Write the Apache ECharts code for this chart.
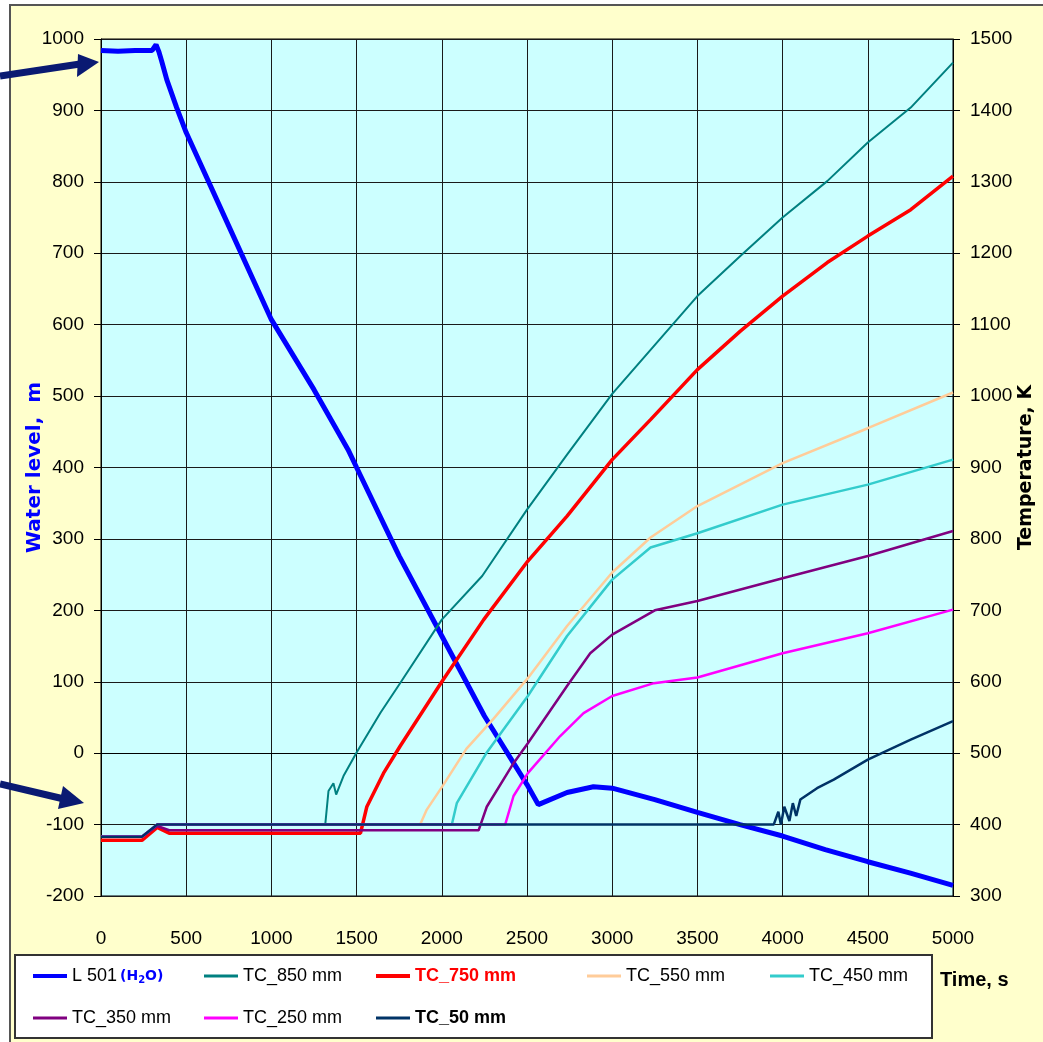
<!DOCTYPE html>
<html>
<head>
<meta charset="utf-8">
<script src="https://cdn.jsdelivr.net/npm/echarts@6/dist/echarts.min.js"></script>
<style>
html, body { margin: 0; padding: 0; background: #fff; }
#chart { width: 1043px; height: 1042px; }
</style>
</head>
<body>
<div id="chart"></div>
<script>
// water level, m (left axis)
const l501Time  = [0, 100, 200, 300, 323, 340, 356, 386, 444, 500, 750, 1000, 1250, 1450, 1500, 1750, 2000, 2250, 2500, 2566, 2735, 2890, 3000, 3250, 3500, 3750, 4000, 4250, 4500, 4750, 5000];
const l501Level = [984, 983, 984, 984, 992, 982, 969, 943, 904, 869, 738, 607, 509, 425, 400, 276, 164, 52, -44, -72, -55, -47, -49, -65, -83, -100, -116, -135, -152, -168, -185];

// temperatures, K (right axis)
const tc850Time = [0, 240, 330, 1316, 1335, 1364, 1380, 1423, 1500, 1641, 1758, 2000, 2237, 2500, 2735, 3000, 3500, 3752, 4000, 4262, 4500, 4752, 5000];
const tc850Temp = [383, 383, 400, 400, 447, 458, 442, 468, 501, 557, 599, 687, 748, 841, 918, 1003, 1140, 1196, 1250, 1301, 1355, 1404, 1467];

const tc750Time = [0, 240, 330, 400, 1523, 1560, 1658, 1756, 2000, 2246, 2505, 2735, 3000, 3225, 3500, 3752, 4000, 4262, 4500, 4752, 5000];
const tc750Temp = [378, 378, 396, 388, 388, 425, 472, 510, 600, 687, 769, 832, 911, 967, 1037, 1091, 1140, 1187, 1224, 1261, 1308];

const tc550Time = [0, 240, 330, 1873, 1912, 2010, 2144, 2303, 2505, 2735, 3000, 3225, 3500, 4000, 4500, 5000];
const tc550Temp = [383, 383, 400, 400, 421, 456, 506, 548, 605, 678, 753, 802, 846, 906, 955, 1005];

const tc450Time = [0, 240, 330, 2059, 2088, 2264, 2505, 2735, 3000, 3225, 3500, 4000, 4500, 5000];
const tc450Temp = [383, 383, 400, 400, 430, 501, 580, 664, 743, 788, 808, 848, 876, 911];

const tc350Time = [0, 240, 330, 400, 2216, 2264, 2421, 2505, 2735, 2871, 3000, 3250, 3500, 4000, 4500, 5000];
const tc350Temp = [383, 383, 398, 392, 392, 425, 486, 514, 594, 640, 666, 700, 713, 745, 776, 811];

const tc250Time = [0, 240, 330, 2372, 2421, 2505, 2695, 2832, 3000, 3245, 3500, 4000, 4500, 5000];
const tc250Temp = [383, 383, 400, 400, 440, 472, 524, 556, 580, 598, 606, 640, 668, 701];

const tc50Time = [0, 240, 330, 3948, 3975, 3990, 4010, 4040, 4060, 4080, 4104, 4202, 4300, 4500, 4752, 5000];
const tc50Temp = [383, 383, 400, 400, 418, 400, 425, 405, 430, 412, 435, 451, 463, 491, 519, 545];

const seriesNames = ['L 501 (H2O)', 'TC_850 mm', 'TC_750 mm', 'TC_550 mm', 'TC_450 mm', 'TC_350 mm', 'TC_250 mm', 'TC_50 mm'];

const FONT = '"Liberation Sans", Arial, sans-serif';
const BOLD = '"DejaVu Sans", Verdana, sans-serif';

function zip(xs, ys) { return xs.map((x, i) => [x, ys[i]]); }
function plain(v) { return String(v); }

var chart = echarts.init(document.getElementById('chart'));

function line(name, xs, ys, color, width, axis) {
  return {
    name: name, type: 'line', yAxisIndex: axis, data: zip(xs, ys),
    symbol: 'none', smooth: false, animation: false,
    lineStyle: { color: color, width: width }, itemStyle: { color: color }
  };
}

// legend items, one small legend each so the columns line up like the original
const legendPos = [
  [33, 967], [204, 967], [376, 967], [587, 967], [770, 967],
  [33, 1009], [204, 1009], [376, 1009]
];
const legendColor = ['#0000ff', '#008080', '#ff0000', '#ffcc99', '#33cccc', '#800080', '#ff00ff', '#003366'];
const legendThick = [4, 3, 4, 3, 3, 3, 3, 3];
const legendText = [
  { color: '#000' }, { color: '#000' },
  { color: '#f00', fontWeight: 'bold' },
  { color: '#000' }, { color: '#000' }, { color: '#000' }, { color: '#000' },
  { color: '#000', fontWeight: 'bold' }
];
var legends = seriesNames.map((n, i) => ({
  data: [{ name: n, textStyle: legendText[i], itemStyle: { color: legendColor[i] } }],
  left: legendPos[i][0], top: legendPos[i][1],
  padding: 0, itemWidth: 34, itemHeight: legendThick[i], icon: 'rect', selectedMode: false,
  formatter: function (name) {
    if (name === 'L 501 (H2O)') return '{a|L 501}{b|(H}{c|2}{b|O)}';
    return name;
  },
  textStyle: {
    fontFamily: FONT, fontSize: 18, color: '#000',
    rich: {
      a: { fontFamily: FONT, fontSize: 18, color: '#000', padding: [0, 3, 0, 0] },
      b: { fontFamily: BOLD, fontSize: 14, fontWeight: 'bold', color: '#0000ff' },
      c: { fontFamily: BOLD, fontSize: 10, fontWeight: 'bold', color: '#0000ff', padding: [9, 0, 0, 0] }
    }
  }
}));

var option = {
  backgroundColor: '#fff',
  animation: false,
  grid: {
    left: 101, right: 90, top: 39, bottom: 146,
    show: true, backgroundColor: '#ccffff', borderColor: '#000', borderWidth: 1,
    outerBoundsMode: 'none'
  },
  legend: legends,
  xAxis: {
    type: 'value', min: 0, max: 5000, interval: 500,
    axisLine: { show: true, lineStyle: { color: '#000', width: 1 } },
    axisTick: { show: true, length: 7, inside: false, lineStyle: { color: '#000' } },
    axisLabel: { margin: 33, color: '#000', fontFamily: FONT, fontSize: 19, formatter: plain },
    splitLine: { show: true, lineStyle: { color: '#1a1a1a', width: 1 } }
  },
  yAxis: [
    {
      type: 'value', min: -200, max: 1000, interval: 100, position: 'left',
      name: 'Water level,  m', nameLocation: 'middle', nameRotate: 90, nameGap: 56,
      nameMoveOverlap: false,
      nameTextStyle: { color: '#0000ff', fontFamily: BOLD, fontWeight: 'bold', fontSize: 20 },
      axisLine: { show: true, lineStyle: { color: '#000', width: 1 } },
      axisTick: { show: true, length: 7, inside: false, lineStyle: { color: '#000' } },
      axisLabel: { margin: 17, color: '#000', fontFamily: FONT, fontSize: 19, formatter: plain },
      splitLine: { show: true, lineStyle: { color: '#1a1a1a', width: 1 } }
    },
    {
      type: 'value', min: 300, max: 1500, interval: 100, position: 'right',
      name: 'Temperature, K', nameLocation: 'middle', nameRotate: 90, nameGap: 64,
      nameMoveOverlap: false,
      nameTextStyle: { color: '#000', fontFamily: BOLD, fontWeight: 'bold', fontSize: 19 },
      axisLine: { show: true, lineStyle: { color: '#000', width: 1 } },
      axisTick: { show: true, length: 7, inside: false, lineStyle: { color: '#000' } },
      axisLabel: { margin: 17, color: '#000', fontFamily: FONT, fontSize: 19, formatter: plain },
      splitLine: { show: false }
    }
  ],
  series: [
    line(seriesNames[0], l501Time, l501Level, '#0000ff', 5, 0),
    line(seriesNames[1], tc850Time, tc850Temp, '#008080', 2, 1),
    line(seriesNames[2], tc750Time, tc750Temp, '#ff0000', 3.5, 1),
    line(seriesNames[3], tc550Time, tc550Temp, '#ffcc99', 2.5, 1),
    line(seriesNames[4], tc450Time, tc450Temp, '#33cccc', 2.5, 1),
    line(seriesNames[5], tc350Time, tc350Temp, '#800080', 2.5, 1),
    line(seriesNames[6], tc250Time, tc250Temp, '#ff00ff', 2.5, 1),
    line(seriesNames[7], tc50Time, tc50Temp, '#003366', 2.5, 1)
  ],
  graphic: [
    // yellow panel behind everything
    { type: 'rect', z: -100, shape: { x: 10, y: 5, width: 1100, height: 1100 },
      style: { fill: '#ffffcc', stroke: '#555', lineWidth: 2 } },
    // legend frame
    { type: 'rect', z: 1, shape: { x: 15, y: 955, width: 917, height: 83 },
      style: { fill: '#fff', stroke: '#333', lineWidth: 2 } },
    { type: 'text', z: 5, left: 940, top: 970,
      style: { text: 'Time, s', fill: '#000', font: 'bold 20px "Liberation Sans", Arial, sans-serif' } },
    // arrows at the left edge
    { type: 'polyline', z: 100, shape: { points: [[0, 76], [80, 64]] },
      style: { stroke: '#0a1a72', lineWidth: 7 } },
    { type: 'polygon', z: 100, shape: { points: [[78, 54], [99, 62], [77, 77]] },
      style: { fill: '#0a1a72' } },
    { type: 'polyline', z: 100, shape: { points: [[0, 784], [64, 799]] },
      style: { stroke: '#0a1a72', lineWidth: 7 } },
    { type: 'polygon', z: 100, shape: { points: [[63, 786], [84, 803], [58, 809]] },
      style: { fill: '#0a1a72' } }
  ]
};

chart.setOption(option);
</script>
</body>
</html>
